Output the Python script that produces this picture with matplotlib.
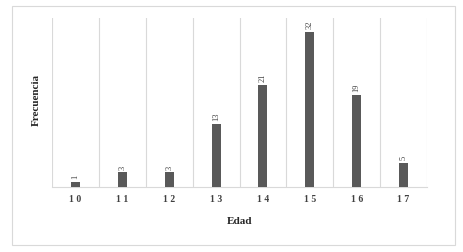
import matplotlib
matplotlib.use("Agg")
import matplotlib.pyplot as plt
from matplotlib.patches import Rectangle

edades = ["10", "11", "12", "13", "14", "15", "16", "17"]
frecuencia = [1, 3, 3, 13, 21, 32, 19, 5]

plt.rcParams['font.family'] = ['Liberation Serif', 'DejaVu Serif']

W, H = 463, 253
fig = plt.figure(figsize=(W/100, H/100), dpi=100)
fig.patches.append(Rectangle((12/W, 1-246/H), (455-12)/W, (246-7)/H,
                             transform=fig.transFigure, fill=False,
                             edgecolor='#d9d9d9', linewidth=0.8))

ax = fig.add_axes([52/W, 1-188/H, (427-52)/W, (188-19)/H])
x = list(range(len(edades)))
ax.bar(x, frecuencia, width=0.19, color='#595959', zorder=3)
for xi, v in zip(x, frecuencia):
    ax.text(xi, v + 0.8, str(v), rotation=90, ha='center', va='bottom',
            fontsize=6, color='#404040')

ax.set_xlim(-0.5, len(edades) - 0.5)
ax.set_ylim(0, 34.9)
for b in [i - 0.5 for i in range(len(edades) + 1)]:
    ax.axvline(b, color='#d9d9d9', linewidth=0.8, zorder=1)
for s in ['top', 'right', 'left']:
    ax.spines[s].set_visible(False)
ax.spines['bottom'].set_color('#d9d9d9')
ax.spines['bottom'].set_linewidth(0.8)
ax.set_yticks([])
ax.set_xticks(x)
ax.set_xticklabels([" ".join(e) for e in edades], fontsize=7, fontweight='bold',
                   color='#404040')
ax.tick_params(axis='x', length=0, pad=5)

fig.text(240/W, 1-222/H, "Edad", ha='center', va='center', fontsize=8,
         fontweight='bold', color='#262626')
fig.text(36/W, 1-100/H, "Frecuencia", ha='center', va='center', rotation=90,
         fontsize=8, fontweight='bold', color='#262626')

fig.savefig("out.png", dpi=100)
